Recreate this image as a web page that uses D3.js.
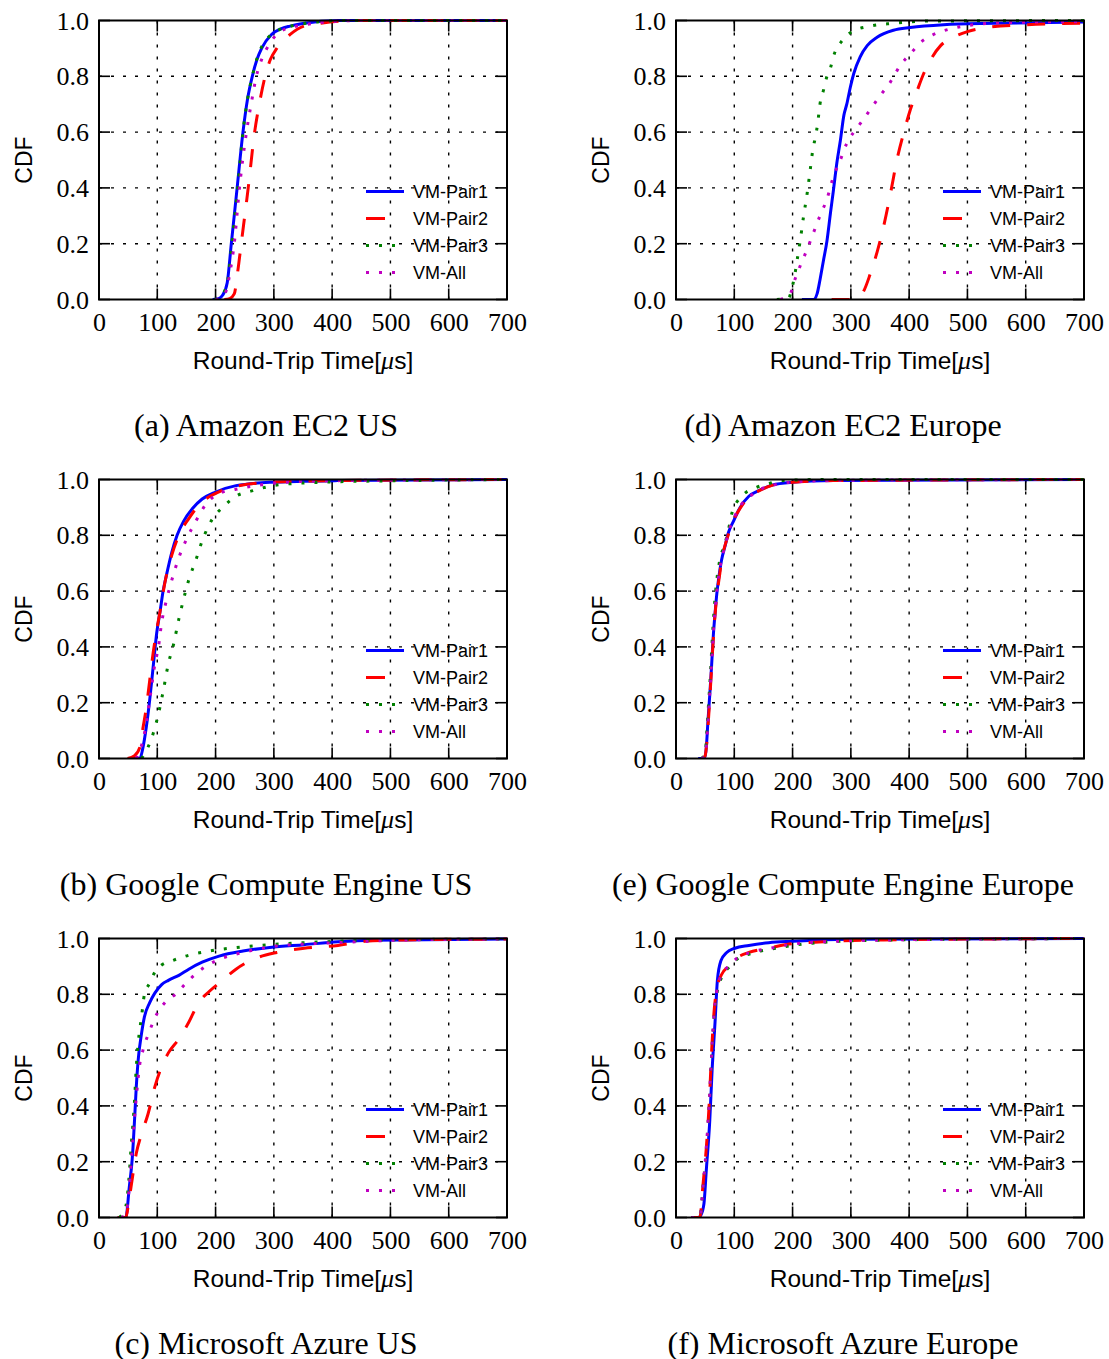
<!DOCTYPE html>
<html>
<head>
<meta charset="utf-8">
<script src="https://cdn.jsdelivr.net/npm/d3@7"></script>
<style>
  html, body { margin: 0; padding: 0; background: #fff; }
  svg { display: block; }
</style>
</head>
<body>
<svg id="chart" width="1109" height="1359"></svg>
<script>
// ---------------- DATA ----------------
const seriesNames = ["VM-Pair1", "VM-Pair2", "VM-Pair3", "VM-All"];
const xTicks = [0, 100, 200, 300, 400, 500, 600, 700];
const yTicks = [0, 0.2, 0.4, 0.6, 0.8, 1.0];
const captions = ["(a) Amazon EC2 US", "(d) Amazon EC2 Europe",
                  "(b) Google Compute Engine US", "(e) Google Compute Engine Europe",
                  "(c) Microsoft Azure US", "(f) Microsoft Azure Europe"];

// (a) Amazon EC2 US  [RTT (us), CDF]
const a_pair1 = [[195,0],[205,0.003],[212,0.015],[220,0.06],[227,0.2],[237,0.4],[247,0.6],[255,0.72],[263,0.8],[271,0.86],[279,0.9],[296,0.95],[312,0.97],[328,0.98],[352,0.99],[410,1],[700,1]];
const a_pair2 = [[215,0],[224,0.003],[232,0.02],[238,0.1],[244,0.2],[256,0.4],[267,0.6],[275,0.7],[285,0.8],[294,0.86],[305,0.9],[328,0.95],[352,0.98],[380,0.99],[440,1],[700,1]];
const a_pair3 = [[198,0],[207,0.005],[213,0.02],[221,0.07],[228,0.2],[238,0.4],[247,0.6],[255,0.72],[263,0.8],[272,0.87],[280,0.91],[296,0.95],[312,0.97],[330,0.98],[355,0.99],[420,1],[700,1]];
const a_all   = [[200,0],[210,0.005],[218,0.03],[225,0.1],[232,0.2],[241,0.4],[253,0.6],[261,0.7],[270,0.8],[279,0.86],[288,0.9],[305,0.95],[320,0.97],[340,0.98],[370,0.99],[450,1],[700,1]];

// (d) Amazon EC2 Europe
const d_pair1 = [[216,0],[236,0],[242,0.02],[247,0.07],[253,0.14],[259,0.21],[265,0.31],[270,0.39],[276,0.49],[282,0.57],[288,0.66],[293,0.7],[299,0.76],[305,0.81],[316,0.87],[328,0.91],[345,0.94],[373,0.965],[402,0.975],[459,0.985],[545,0.99],[700,0.995]];
const d_pair2 = [[267,0],[299,0],[310,0.005],[322,0.03],[333,0.09],[345,0.17],[356,0.26],[368,0.38],[379,0.5],[391,0.6],[402,0.68],[414,0.75],[425,0.81],[437,0.86],[454,0.91],[476,0.94],[500,0.96],[534,0.975],[603,0.985],[700,0.99]];
const d_pair3 = [[173,0],[193,0.005],[200,0.05],[204,0.09],[207,0.13],[213,0.21],[219,0.3],[225,0.38],[230,0.46],[235,0.54],[239,0.58],[243,0.63],[247,0.7],[253,0.75],[259,0.8],[265,0.83],[270,0.87],[286,0.93],[302,0.96],[333,0.98],[373,0.99],[430,0.998],[700,1]];
const d_all   = [[179,0],[196,0.02],[202,0.06],[213,0.12],[225,0.18],[236,0.24],[247,0.3],[259,0.36],[270,0.44],[282,0.5],[293,0.56],[305,0.6],[316,0.63],[333,0.68],[350,0.73],[368,0.78],[385,0.84],[402,0.88],[419,0.92],[442,0.95],[471,0.97],[511,0.985],[574,0.993],[700,0.996]];

// (b) Google Compute Engine US
const b_pair1 = [[60,0],[70,0],[75.5,0.04],[81,0.11],[87,0.21],[93,0.33],[99,0.45],[105,0.53],[110,0.6],[116,0.66],[125,0.74],[134,0.8],[145,0.85],[160,0.895],[177,0.93],[200,0.955],[235,0.978],[293,0.99],[410,0.996],[700,1]];
const b_pair2 = [[49,0],[61,0.01],[70,0.04],[75.5,0.11],[81,0.18],[87,0.28],[93,0.38],[99,0.46],[105,0.53],[113,0.63],[125,0.73],[137,0.8],[154,0.86],[177,0.92],[200,0.95],[235,0.975],[293,0.99],[410,0.996],[700,1]];
const b_pair3 = [[73,0],[84,0.04],[93,0.09],[102,0.16],[110,0.24],[119,0.34],[128,0.41],[137,0.5],[145,0.57],[154,0.64],[166,0.71],[177,0.78],[195,0.86],[212,0.9],[235,0.94],[264,0.96],[305,0.98],[380,0.99],[526,0.996],[700,1]];
const b_all   = [[64,0],[78,0.09],[87,0.21],[96,0.34],[102,0.4],[107,0.48],[116,0.57],[125,0.64],[137,0.72],[151,0.79],[166,0.85],[183,0.91],[206,0.95],[235,0.965],[293,0.985],[380,0.995],[700,1]];

// (e) Google Compute Engine Europe
const e_pair1 = [[38,0],[49,0],[52,0.04],[55,0.14],[58,0.23],[61,0.33],[64,0.44],[67,0.52],[70,0.59],[73.5,0.65],[78,0.71],[84,0.76],[90,0.81],[98.5,0.85],[110,0.9],[125,0.94],[142,0.96],[165,0.98],[200,0.99],[270,0.996],[700,1]];
const e_pair2 = [[45,0],[50,0.01],[53,0.06],[56,0.15],[59,0.25],[62,0.36],[65,0.46],[68,0.54],[71,0.6],[75,0.66],[79,0.72],[85,0.77],[91,0.81],[100,0.86],[111,0.9],[126,0.94],[143,0.96],[166,0.98],[200,0.99],[270,0.996],[700,1]];
const e_pair3 = [[44,0],[50,0.02],[53,0.1],[56,0.2],[59,0.3],[62,0.42],[65,0.52],[68,0.6],[70,0.64],[75,0.71],[84,0.77],[90,0.82],[96,0.88],[113,0.94],[136,0.97],[159,0.985],[177,0.995],[250,1],[700,1]];
const e_all   = [[44,0],[50,0.01],[53,0.07],[56,0.17],[59,0.27],[62,0.38],[65,0.48],[68,0.56],[71,0.62],[75,0.68],[80,0.73],[86,0.78],[93,0.83],[101,0.87],[112,0.91],[127,0.94],[145,0.965],[168,0.98],[205,0.992],[280,0.997],[700,1]];

// (c) Microsoft Azure US
const c_pair1 = [[32,0],[46,0],[52,0.11],[57,0.21],[61,0.35],[64,0.47],[67,0.56],[73,0.66],[78,0.72],[87,0.77],[96,0.805],[107.5,0.835],[119,0.85],[137,0.868],[154,0.89],[177,0.915],[206,0.937],[247,0.955],[293,0.968],[352,0.978],[410,0.988],[468,0.994],[700,0.998]];
const c_pair2 = [[32,0],[46,0],[50,0.04],[55,0.11],[64,0.23],[73,0.3],[84,0.37],[96,0.47],[107.5,0.54],[119,0.59],[137,0.64],[154,0.7],[171,0.77],[189,0.81],[212,0.85],[235,0.89],[270,0.93],[305,0.95],[352,0.965],[410,0.975],[456,0.99],[526,0.995],[700,0.998]];
const c_pair3 = [[35,0],[46,0.04],[51,0.13],[55,0.25],[61,0.42],[64,0.54],[67,0.62],[73,0.72],[78,0.8],[87,0.84],[96,0.88],[107.5,0.905],[125,0.92],[154,0.94],[189,0.955],[247,0.97],[293,0.978],[352,0.985],[410,0.99],[526,0.996],[700,0.998]];
const c_all   = [[38,0],[46,0.01],[52,0.11],[58,0.28],[64,0.43],[70,0.55],[75.5,0.6],[87,0.67],[102,0.74],[113,0.77],[131,0.8],[154,0.85],[183,0.9],[212,0.93],[247,0.95],[293,0.97],[352,0.98],[410,0.985],[526,0.995],[700,0.998]];

// (f) Microsoft Azure Europe
const f_pair1 = [[26,0],[38,0],[43,0.01],[48,0.05],[52,0.17],[58,0.35],[62,0.53],[67,0.7],[71,0.85],[77,0.92],[87,0.95],[101,0.965],[125,0.975],[159,0.985],[200,0.99],[298,0.997],[700,1]];
const f_pair2 = [[26,0],[41,0],[46,0.11],[52,0.25],[57,0.41],[61,0.59],[65,0.73],[70,0.82],[78,0.87],[90,0.9],[101,0.925],[125,0.95],[159,0.965],[194,0.98],[270,0.99],[356,0.995],[700,1]];
const f_pair3 = [[26,0],[41,0],[46,0.1],[52,0.24],[57,0.4],[61,0.57],[65,0.71],[70,0.8],[78,0.86],[90,0.895],[104,0.925],[136,0.95],[171,0.965],[210,0.978],[280,0.99],[380,0.995],[700,1]];
const f_all   = [[26,0],[41,0],[46,0.1],[52,0.25],[57,0.41],[61,0.58],[65,0.72],[70,0.81],[78,0.87],[90,0.9],[102,0.925],[128,0.95],[162,0.965],[200,0.98],[275,0.99],[370,0.995],[700,1]];

const panelSeries = [
  [a_pair1, a_pair2, a_pair3, a_all],
  [d_pair1, d_pair2, d_pair3, d_all],
  [b_pair1, b_pair2, b_pair3, b_all],
  [e_pair1, e_pair2, e_pair3, e_all],
  [c_pair1, c_pair2, c_pair3, c_all],
  [f_pair1, f_pair2, f_pair3, f_all]
];

// ---------------- STYLE / LAYOUT ----------------
const styles = [
  { color: "#0000ff", width: 3, dash: null },
  { color: "#ff0000", width: 3, dash: "18,17" },
  { color: "#008000", width: 3, dash: "3,10" },
  { color: "#c000c0", width: 3, dash: "3,10" }
];
const legendDash = [null, "19,40", "3,10", "3,10"];
const SERIF = "'Liberation Serif','Times New Roman',Times,serif";
const SANS = "'Liberation Sans',Arial,Helvetica,sans-serif";

const colX = [99, 676];
const rowY = [20.5, 479.5, 938.5];
const PW = 408, PH = 279;

const svg = d3.select("#chart");

panelSeries.forEach((series, i) => {
  const col = i % 2, row = Math.floor(i / 2);
  const x0 = colX[col], y0 = rowY[row];
  const g = svg.append("g").attr("transform", `translate(${x0},${y0})`);

  const x = d3.scaleLinear().domain([0, 700]).range([0, PW]);
  const y = d3.scaleLinear().domain([0, 1]).range([PH, 0]);

  // grid
  const grid = g.append("g").attr("stroke", "#000").attr("stroke-width", 1.4)
    .attr("stroke-dasharray", "3,9");
  xTicks.slice(1, -1).forEach(t => {
    grid.append("line").attr("x1", x(t)).attr("x2", x(t)).attr("y1", 0).attr("y2", PH);
  });
  yTicks.slice(1, -1).forEach(t => {
    grid.append("line").attr("y1", y(t)).attr("y2", y(t)).attr("x1", 0).attr("x2", PW);
  });

  // inward ticks on all sides
  const tk = g.append("g").attr("stroke", "#000").attr("stroke-width", 1.6);
  const TL = 11;
  xTicks.forEach(t => {
    tk.append("line").attr("x1", x(t)).attr("x2", x(t)).attr("y1", PH).attr("y2", PH - TL);
    tk.append("line").attr("x1", x(t)).attr("x2", x(t)).attr("y1", 0).attr("y2", TL);
  });
  yTicks.forEach(t => {
    tk.append("line").attr("y1", y(t)).attr("y2", y(t)).attr("x1", 0).attr("x2", TL);
    tk.append("line").attr("y1", y(t)).attr("y2", y(t)).attr("x1", PW).attr("x2", PW - TL);
  });

  // axes (labels only)
  const xAxis = g.append("g").attr("transform", `translate(0,${PH})`)
    .call(d3.axisBottom(x).tickValues(xTicks).tickSize(0).tickFormat(d3.format("d")));
  xAxis.select(".domain").remove();
  xAxis.selectAll("text").attr("y", 31).attr("dy", 0)
    .style("font-family", SERIF).style("font-size", "26px").attr("fill", "#000");

  const yAxis = g.append("g")
    .call(d3.axisLeft(y).tickValues(yTicks).tickSize(0).tickFormat(d3.format(".1f")));
  yAxis.select(".domain").remove();
  yAxis.selectAll("text").attr("x", -10).attr("dy", "0.33em")
    .style("font-family", SERIF).style("font-size", "26px").attr("fill", "#000");

  // clip
  const cid = "clip" + i;
  g.append("clipPath").attr("id", cid).append("rect")
    .attr("x", 0).attr("y", -2).attr("width", PW).attr("height", PH + 2);

  const line = d3.line().x(d => x(d[0])).y(d => y(d[1])).curve(d3.curveMonotoneX);
  const lines = g.append("g").attr("clip-path", `url(#${cid})`);
  series.forEach((data, k) => {
    const s = styles[k];
    lines.append("path").datum(data).attr("d", line)
      .attr("fill", "none").attr("stroke", s.color).attr("stroke-width", s.width)
      .attr("stroke-dasharray", s.dash).attr("stroke-linejoin", "round");
  });

  // frame
  g.append("rect").attr("x", 0).attr("y", 0).attr("width", PW).attr("height", PH)
    .attr("fill", "none").attr("stroke", "#000").attr("stroke-width", 2);

  // legend
  const legRows = [171, 198, 225, 252];
  seriesNames.forEach((name, k) => {
    const s = styles[k];
    g.append("line").attr("x1", 267).attr("x2", 305).attr("y1", legRows[k]).attr("y2", legRows[k])
      .attr("stroke", s.color).attr("stroke-width", s.width)
      .attr("stroke-dasharray", legendDash[k]);
    g.append("text").attr("x", 314).attr("y", legRows[k] + 6.5).text(name)
      .style("font-family", SANS).style("font-size", "18px").attr("fill", "#000");
  });

  // y-axis title
  g.append("text").attr("transform", `translate(${-75},${PH / 2}) rotate(-90)`)
    .attr("text-anchor", "middle").attr("dy", "0.35em")
    .style("font-family", SANS).style("font-size", "23px").text("CDF");

  // x-axis title
  const xt = g.append("text").attr("x", PW / 2).attr("y", PH + 69).attr("text-anchor", "middle")
    .style("font-family", SANS).style("font-size", "24.5px");
  xt.append("tspan").text("Round-Trip Time[");
  xt.append("tspan").text("μ").style("font-family", SERIF).style("font-style", "italic").style("font-size", "26px");
  xt.append("tspan").text("s]");

  // caption
  g.append("text").attr("x", PW / 2 - 37).attr("y", PH + 136).attr("text-anchor", "middle")
    .style("font-family", SERIF).style("font-size", "32px").text(captions[i]);
});
</script>
</body>
</html>
